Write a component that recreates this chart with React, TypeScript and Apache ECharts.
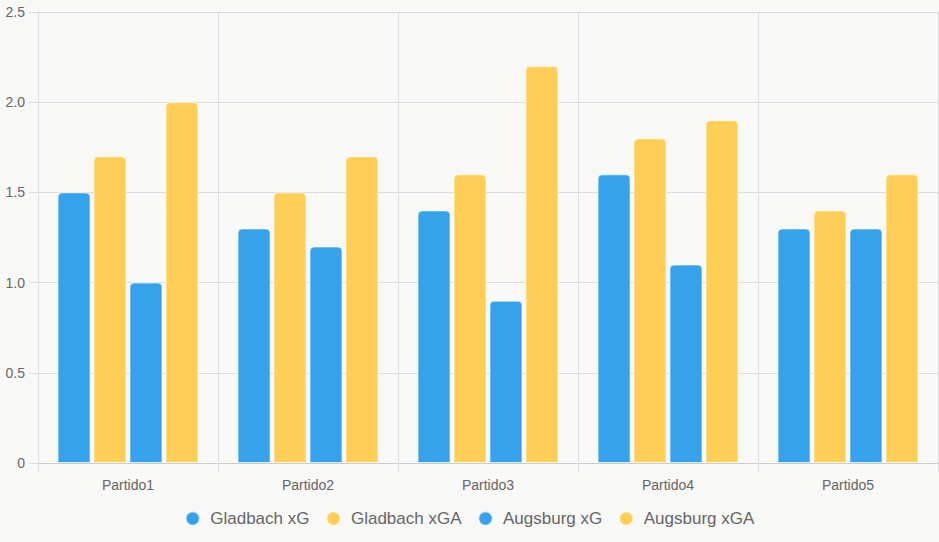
import React, { useEffect, useRef } from "react";
import * as echarts from "echarts";

const categories = ["Partido1", "Partido2", "Partido3", "Partido4", "Partido5"];
const gladbachXG = [1.5, 1.3, 1.4, 1.6, 1.3];
const gladbachXGA = [1.7, 1.5, 1.6, 1.8, 1.4];
const augsburgXG = [1.0, 1.2, 0.9, 1.1, 1.3];
const augsburgXGA = [2.0, 1.7, 2.2, 1.9, 1.6];
const seriesNames = ["Gladbach xG", "Gladbach xGA", "Augsburg xG", "Augsburg xGA"];

const BLUE = "#36A2EB";
const YELLOW = "#FFCE56";
const FONT = "Liberation Sans, Arial, sans-serif";

export default function App() {
  const ref = useRef<HTMLDivElement>(null);
  useEffect(() => {
    if (!ref.current) return;
    const chart = echarts.init(ref.current, null, { renderer: "svg" });
    const datas = [gladbachXG, gladbachXGA, augsburgXG, augsburgXGA];
    const colors = [BLUE, YELLOW, BLUE, YELLOW];
    chart.setOption({
      animation: false,
      backgroundColor: "#f8f8f6",
      grid: { left: 38, right: 1, top: 12, bottom: 79, containLabel: false },
      legend: {
        bottom: 10,
        left: "center",
        icon: "circle",
        itemWidth: 25,
        itemHeight: 14,
        itemGap: 16,
        textStyle: { color: "#666", fontSize: 17, fontFamily: FONT },
        data: seriesNames,
      },
      xAxis: {
        type: "category",
        data: categories,
        axisLine: { show: true, lineStyle: { color: "#ccc" } },
        axisTick: { show: true, length: 9, lineStyle: { color: "#ddd" } },
        splitLine: { show: true, lineStyle: { color: "#ddd" } },
        axisLabel: { color: "#666", fontSize: 14, margin: 15, fontFamily: FONT },
      },
      yAxis: {
        type: "value",
        min: 0,
        max: 2.5,
        interval: 0.5,
        axisLine: { show: true, lineStyle: { color: "#ddd" } },
        axisTick: { show: true, length: 9, lineStyle: { color: "#ddd" } },
        splitLine: { show: true, lineStyle: { color: "#ddd" } },
        axisLabel: {
          color: "#666",
          fontSize: 14,
          margin: 13,
          fontFamily: FONT,
          formatter: (v: number) => (v === 0 ? "0" : v.toFixed(1)),
        },
      },
      series: datas.map((d, i) => ({
        name: seriesNames[i],
        type: "bar",
        data: d,
        barWidth: 33,
        barGap: "9%",
        itemStyle: {
          color: colors[i],
          borderRadius: [4, 4, 0, 0],
          borderColor: "rgba(255,255,255,0.6)",
          borderWidth: 1,
        },
      })),
    });
    return () => chart.dispose();
  }, []);
  return (
    <div
      ref={ref}
      style={{ position: "absolute", left: 0, top: 0, width: 939, height: 542 }}
    />
  );
}
